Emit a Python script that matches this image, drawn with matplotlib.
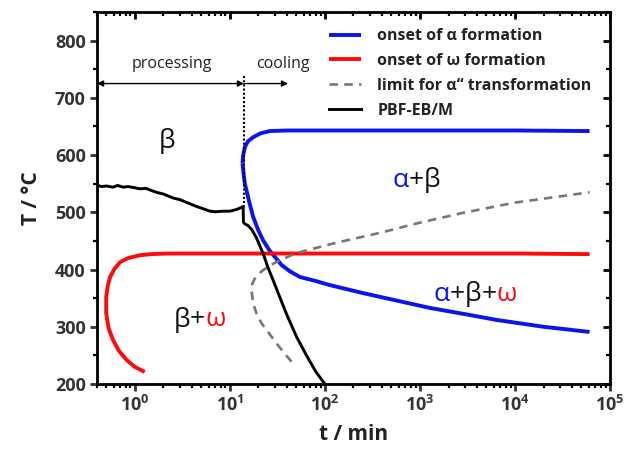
import matplotlib
matplotlib.use("Agg")
import matplotlib.pyplot as plt
from matplotlib.ticker import LogLocator, FixedLocator, FixedFormatter, MultipleLocator, NullFormatter

plt.rcParams['font.family'] = ['Open Sans', 'DejaVu Sans']
plt.rcParams['mathtext.fontset'] = 'custom'
plt.rcParams['mathtext.rm'] = 'Open Sans'
plt.rcParams['mathtext.bf'] = 'Open Sans:bold'

# onset of alpha formation (upper and lower branch)
alpha_up_t = [13.6, 13.8, 14.4, 15.5, 17.5, 21, 26.3, 40, 100, 1000, 10000, 61000]
alpha_up_T = [585, 600, 614, 624, 631, 638, 642, 643, 643, 643, 643, 642]
alpha_lo_t = [13.6, 14.0, 14.4, 16, 17.6, 20, 22.4, 26, 29.8, 35, 42.8, 54.6, 80, 112, 250, 600, 1270, 3000, 6400, 20000, 61000]
alpha_lo_T = [585, 565, 550, 518, 492, 468, 451, 434, 422, 408, 397, 387, 380, 373, 359, 345, 333, 322, 312, 300, 291]

# onset of omega formation
omega_t = [1.27, 1.0, 0.82, 0.68, 0.59, 0.53, 0.50, 0.50, 0.52, 0.55, 0.61, 0.70, 0.85, 1.13, 1.5, 2.2, 5, 100, 10000, 61000]
omega_T = [221, 230, 242, 258, 277, 297, 324, 352, 372, 387, 401, 413, 420, 425, 427, 428, 428, 428, 428, 427]

# limit for alpha'' transformation
limit_t = [44.6, 37, 31, 26, 21.6, 19, 17.6, 16.9, 17.2, 18.3, 20, 22.4, 27, 33.5, 50.5, 133, 400, 1000, 2830, 10000, 61000]
limit_T = [239, 255, 271, 288, 306, 324, 341, 364, 375, 384, 392, 399, 408, 416, 429, 447, 465, 482, 499, 517, 535]

# PBF-EB/M temperature record
pbf_t = [0.4, 0.45, 0.5, 0.59, 0.66, 0.75, 0.85, 1.0, 1.13, 1.3, 1.5, 1.69, 2.0, 2.53, 3.0, 3.79, 4.5, 5.3, 6.17, 7.0, 8.5, 10, 11.8, 13.0, 13.8, 13.9, 14.3, 15.5, 17.0, 19.1, 22.4, 25, 28.6, 33.5, 40, 50.5, 65, 80, 100]
pbf_T = [547, 545, 546, 544, 547, 544, 545, 543, 541, 542, 538, 535, 532, 525, 522, 515, 510, 506, 502, 501, 502, 502, 505, 508, 510, 483, 480, 477, 470, 455, 428, 405, 381, 352, 320, 282, 248, 222, 200]

region_labels = [(2.2, 625, "β"), (4.8, 312, "β+ω"), (930, 556, "α+β"), (3800, 357, "α+β+ω")]
xtick_pos = [1, 10, 100, 1000, 10000, 100000]
xtick_lab = [r'$\mathbf{10^{%d}}$' % i for i in range(6)]
ytick_pos = [200, 300, 400, 500, 600, 700, 800]

blue = '#0a14f0'
red = '#ff0a0a'

fig = plt.figure(figsize=(6.31, 4.55), dpi=100)
ax = fig.add_axes([0.1537, 0.156, 0.8130, 0.8176])

ax.plot(alpha_up_t, alpha_up_T, color=blue, lw=2.8, label='onset of α formation', solid_capstyle='butt')
ax.plot(alpha_lo_t, alpha_lo_T, color=blue, lw=2.8, solid_capstyle='butt')
ax.plot(omega_t, omega_T, color=red, lw=2.8, label='onset of ω formation', solid_capstyle='butt')
ax.plot(limit_t, limit_T, color='#777777', lw=1.9, ls=(0, (3.2, 2.4)), label='limit for α\u2018\u2018 transformation')
ax.plot(pbf_t, pbf_T, color='black', lw=2.1, label='PBF-EB/M')

# processing / cooling
ax.plot([14.1, 14.1], [739, 510], color='black', lw=1.5, ls=(0, (1, 1)))
ax.annotate('', xy=(0.4, 725), xytext=(14.1, 725),
            arrowprops=dict(arrowstyle='<|-|>', color='black', lw=1.0, mutation_scale=9, shrinkA=0, shrinkB=0))
ax.annotate('', xy=(41, 725), xytext=(14.1, 725),
            arrowprops=dict(arrowstyle='-|>', color='black', lw=1.0, mutation_scale=9, shrinkA=0, shrinkB=0))
ax.text(2.45, 760, 'processing', fontsize=11.5, ha='center', va='center', color='#222222')
ax.text(36, 760, 'cooling', fontsize=11.5, ha='center', va='center', color='#222222')

ax.set_xscale('log')
ax.set_xlim(0.4, 1e5)
ax.set_ylim(200, 850)
ax.xaxis.set_major_locator(FixedLocator(xtick_pos))
ax.xaxis.set_major_formatter(FixedFormatter(xtick_lab))
ax.xaxis.set_minor_locator(LogLocator(base=10, subs=range(2, 10), numticks=20))
ax.xaxis.set_minor_formatter(NullFormatter())
ax.yaxis.set_major_locator(FixedLocator(ytick_pos))
ax.yaxis.set_minor_locator(MultipleLocator(50))
ax.tick_params(which='major', direction='out', length=5, width=2, labelsize=13, colors='#333333', pad=3)
ax.tick_params(which='minor', direction='out', length=3, width=1.6)
for lab in ax.get_yticklabels():
    lab.set_fontweight('bold')
for sp in ax.spines.values():
    sp.set_linewidth(2)

# inward ticks on top and right
axt = ax.twiny()
axt.set_xscale('log')
axt.set_xlim(ax.get_xlim())
axt.xaxis.set_major_locator(FixedLocator(xtick_pos))
axt.xaxis.set_minor_locator(LogLocator(base=10, subs=range(2, 10), numticks=20))
axt.tick_params(which='both', direction='in', labeltop=False, width=2)
axt.tick_params(which='major', length=5)
axt.tick_params(which='minor', length=3, width=1.6)
axr = ax.twinx()
axr.set_ylim(ax.get_ylim())
axr.yaxis.set_major_locator(FixedLocator(ytick_pos))
axr.yaxis.set_minor_locator(MultipleLocator(50))
axr.tick_params(which='both', direction='in', labelright=False, width=2)
axr.tick_params(which='major', length=5)
axr.tick_params(which='minor', length=3, width=1.6)

ax.set_xlabel('t / min', fontsize=15, fontweight='bold', color='#222222', labelpad=6)
ax.set_ylabel('T / °C', fontsize=15, fontweight='bold', color='#222222', labelpad=9)

leg = ax.legend(loc='upper left', bbox_to_anchor=(0.425, 0.995), frameon=False, handlelength=2.0,
                handletextpad=1.0, labelspacing=0.55, prop={'weight': 'bold', 'size': 11.5})
for t in leg.get_texts():
    t.set_color('#222222')

# region labels, alpha in blue and omega in red
cols = {'α': blue, 'ω': red}
fig.canvas.draw()
for t, T, s in region_labels:
    t0 = ax.text(t, T, s, fontsize=19, ha='center', va='center', alpha=0)
    fig.canvas.draw()
    bb = t0.get_window_extent()
    x0 = bb.x0
    yc = (bb.y0 + bb.y1) / 2
    for ch in s:
        c = ax.annotate(ch, xy=(x0, yc), xycoords='figure pixels',
                        fontsize=19, ha='left', va='center', color=cols.get(ch, '#111111'))
        fig.canvas.draw()
        x0 = c.get_window_extent().x1

fig.savefig('out.png', dpi=100)
